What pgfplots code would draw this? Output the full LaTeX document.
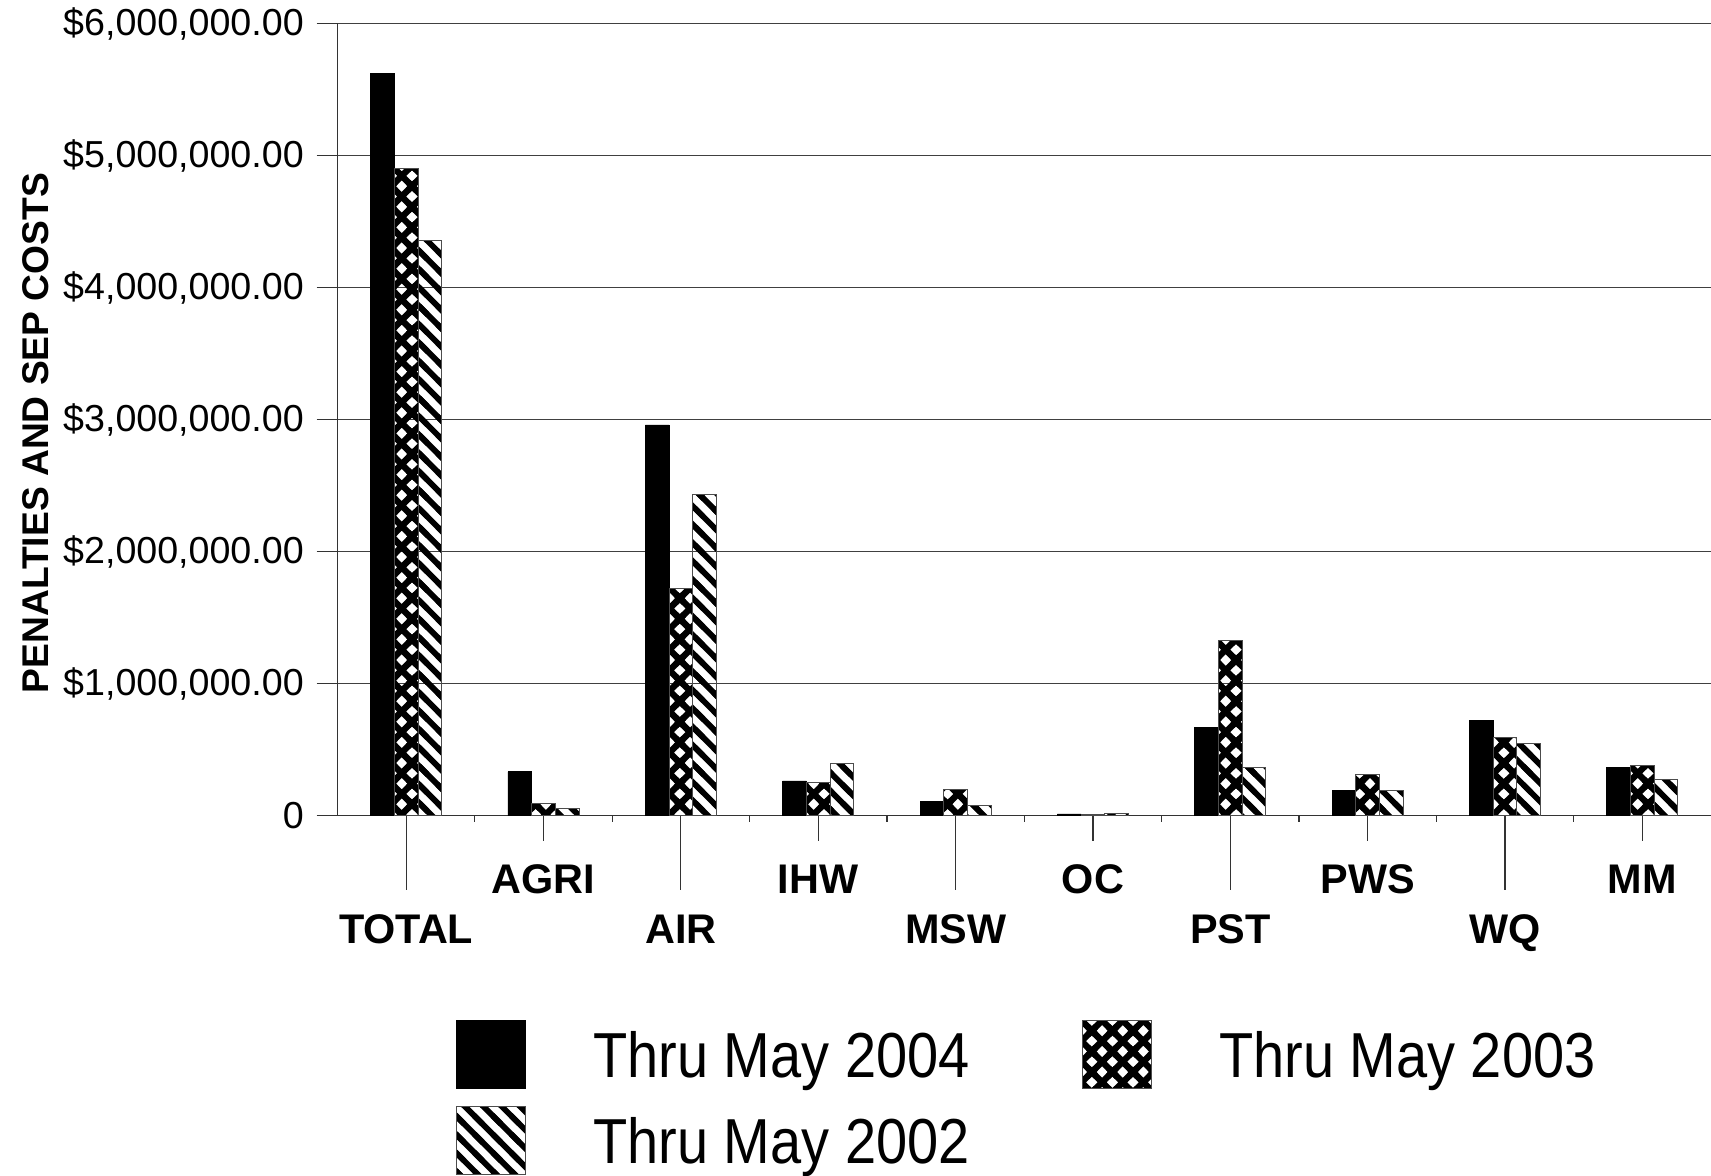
\documentclass[border=0pt]{standalone}
\usepackage{fontspec}
\setmainfont{Liberation Sans}
\newfontfamily\legfont[FakeStretch=0.88]{Liberation Sans}
\usepackage{pgfplots}
\usepackage{pgfplotstable}
\pgfplotsset{compat=1.18}
\usetikzlibrary{patterns}
\pgfdeclarepatternformonly{mystripes}{\pgfpoint{-3pt}{-3pt}}{\pgfpoint{12.2pt}{12.2pt}}{\pgfpoint{9.2pt}{9.2pt}}{%
  \pgfsetlinewidth{2.9pt}%
  \pgfpathmoveto{\pgfpoint{-6pt}{15.2pt}}\pgfpathlineto{\pgfpoint{15.2pt}{-6pt}}%
  \pgfusepath{stroke}}
\pgfdeclarepatternformonly{myhatch}{\pgfpoint{-3pt}{-3pt}}{\pgfpoint{13.3pt}{13.3pt}}{\pgfpoint{10.3pt}{10.3pt}}{%
  \pgfsetlinewidth{3.2pt}%
  \pgfpathmoveto{\pgfpoint{-6pt}{-6pt}}\pgfpathlineto{\pgfpoint{16.3pt}{16.3pt}}%
  \pgfpathmoveto{\pgfpoint{-6pt}{16.3pt}}\pgfpathlineto{\pgfpoint{16.3pt}{-6pt}}%
  \pgfusepath{stroke}}
\pgfplotstableread{
x v2004 v2003 v2002
0 5620000 4900000 4360000
1 333000 94000 56000
2 2960000 1720000 2430000
3 263000 253000 397000
4 109000 202000 81000
5 13000 8000 20000
6 672000 1330000 367000
7 190000 310000 190000
8 725000 596000 545000
9 364000 379000 276000
}\datatable
\begin{document}
\begin{tikzpicture}
\useasboundingbox (0,0) rectangle (855.5pt,587.5pt);
\begin{axis}[
  at={(168.75pt,179.65pt)}, anchor=south west,
  scale only axis, width=686.75pt, height=396pt,
  ybar=0pt, bar width=11.85pt,
  xmin=-0.5, xmax=9.5, ymin=0, ymax=6000000,
  axis x line*=bottom, axis y line*=left,
  axis line style={-, black!80, line width=0.6pt},
  tick align=outside,
  major tick length=10.5pt,
  tick style={black!80, line width=0.6pt},
  ytick={0,1000000,2000000,3000000,4000000,5000000,6000000},
  yticklabels={0,{\$1,000,000.00},{\$2,000,000.00},{\$3,000,000.00},{\$4,000,000.00},{\$5,000,000.00},{\$6,000,000.00}},
  scaled y ticks=false,
  ymajorgrids, major grid style={black!75, line width=0.6pt},
  yticklabel style={font=\fontsize{18.8}{22}\selectfont, inner sep=0pt, anchor=east, xshift=-6.2pt},
  xtick={0,2,4,6,8}, xticklabels={TOTAL,AIR,MSW,PST,WQ},
  xtick style={/pgfplots/major tick length=37pt},
  extra x ticks={1,3,5,7,9}, extra x tick labels={AGRI,IHW,OC,PWS,MM},
  extra x tick style={xtick style={/pgfplots/major tick length=12.5pt}, xticklabel style={yshift=25pt}},
  xticklabel style={font=\bfseries\fontsize{20.7}{24}\selectfont, anchor=base, yshift=-53.3pt},
  minor xtick={0.5,1.5,...,8.5}, minor tick length=3pt,
  ylabel={PENALTIES AND SEP COSTS},
  every axis y label/.style={at={(axis description cs:-0.2198,0.4832)}, rotate=90, anchor=center, font=\bfseries\fontsize{18.6}{22}\selectfont},
  legend columns=2,
  legend cell align=left,
  legend image code/.code={
    \pgfpathrectangle{\pgfpoint{0pt}{-17pt}}{\pgfpoint{124.75pt}{34pt}}\pgfusepath{discard}
    \draw[#1] (56.5pt,-17pt) rectangle (91pt,17pt);
  },
  legend style={at={(axis description cs:0.0045,-0.258)}, anchor=north west,
    draw=none, fill=none, inner sep=0pt, outer sep=0pt,
    column sep=0pt, row sep=8.5pt,
    nodes={inner sep=0pt, text height=22.8pt, text depth=0pt, font=\legfont\fontsize{31.8}{36}\selectfont}},
]
\addplot[fill=black, draw=black] table[x=x, y=v2004] {\datatable};
\addplot[pattern=myhatch, draw=black!70, line width=0.5pt] table[x=x, y=v2003] {\datatable};
\addplot[pattern=mystripes, draw=black!70, line width=0.5pt] table[x=x, y=v2002] {\datatable};
\legend{Thru May 2004, Thru May 2003, Thru May 2002}
\end{axis}
\end{tikzpicture}
\end{document}
